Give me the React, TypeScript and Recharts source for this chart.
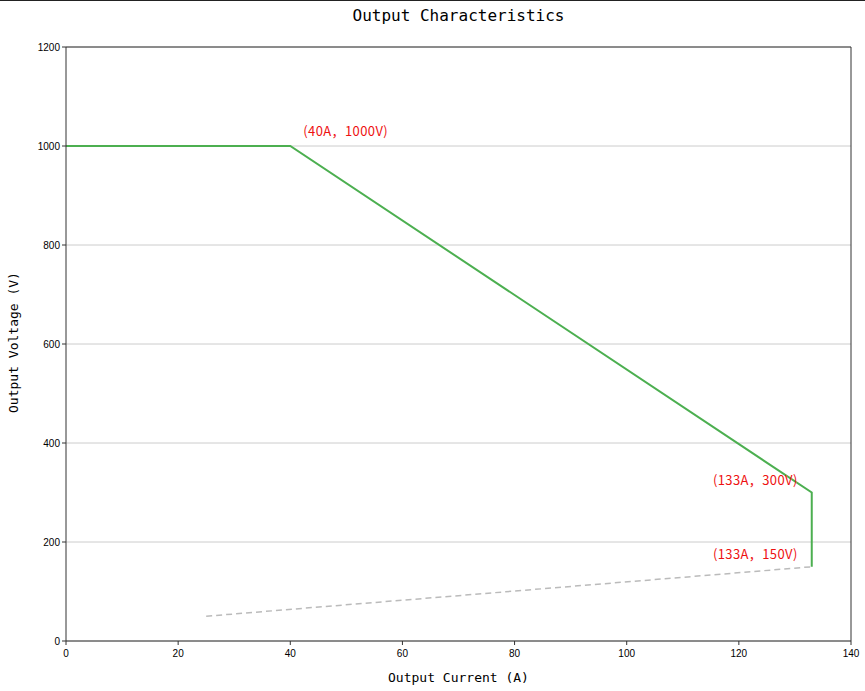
import React from 'react'
import { LineChart, Line, XAxis, YAxis, CartesianGrid, ReferenceLine, ReferenceDot } from 'recharts'

// 输出特性曲线
const curveCurrent = [0, 40, 133, 133]
const curveVoltage = [1000, 1000, 300, 150]

const lowCurrent = [25, 133]
const lowVoltage = [50, 150]

const xTicks = [0, 20, 40, 60, 80, 100, 120, 140]
const yTicks = [0, 200, 400, 600, 800, 1000, 1200]

const noteX = [40, 133, 133]
const noteY = [1000, 300, 150]
const noteText = ['(40A，1000V)', '(133A，300V)', '(133A，150V)']
const noteSide = ['right', 'left', 'left']

const curveData = curveCurrent.map((x, i) => ({ x, v: curveVoltage[i] }))
const lowData = lowCurrent.map((x, i) => ({ x, v: lowVoltage[i] }))

const W = 865
const H = 691
const axisColor = '#333'
const mono = '"DejaVu Sans Mono", monospace'

function NoteLabel(props: any) {
  const { viewBox, text, side } = props
  const cx = viewBox.x + viewBox.width / 2
  const cy = viewBox.y + viewBox.height / 2
  const right = side === 'right'
  return (
    <text
      x={right ? cx + 13 : cx - 14}
      y={right ? cy - 10 : cy - 8}
      textAnchor={right ? 'start' : 'end'}
      fill="#ee1111"
      fontSize={13}
      letterSpacing={0.4}
      fontFamily='"Noto Sans CJK SC", sans-serif'
    >
      {text}
    </text>
  )
}

export default function App() {
  return (
    <div style={{ position: 'fixed', left: 0, top: 0, width: W, height: H, background: '#fff', overflow: 'hidden' }}>
      <div style={{ position: 'absolute', left: 0, top: 0, width: W, height: 1, background: '#222' }} />
      <div
        style={{
          position: 'absolute', left: 66, width: 785, top: 6, textAlign: 'center',
          fontFamily: mono, fontSize: 16, color: '#000'
        }}
      >
        Output Characteristics
      </div>
      <div
        style={{
          position: 'absolute', left: 66, width: 785, top: 670, textAlign: 'center',
          fontFamily: mono, fontSize: 13, color: '#000'
        }}
      >
        Output Current (A)
      </div>
      <div
        style={{
          position: 'absolute', left: 13 - 100, width: 200, top: 344 - 9, textAlign: 'center',
          fontFamily: mono, fontSize: 13, color: '#000', transform: 'rotate(-90deg)'
        }}
      >
        Output Voltage (V)
      </div>
      <div style={{ position: 'absolute', left: 0, top: 0 }}>
        <LineChart width={W} height={H} margin={{ top: 47, right: 14, bottom: 0, left: 0 }}>
          <CartesianGrid vertical={false} stroke="#cccccc" />
          <XAxis
            dataKey="x"
            type="number"
            domain={[0, 140]}
            ticks={xTicks}
            height={50}
            allowDuplicatedCategory={false}
            axisLine={{ stroke: axisColor }}
            tickLine={{ stroke: axisColor }}
            tickSize={4}
            tickMargin={5}
            tick={{ fill: '#000', fontSize: 10, fontFamily: '"Liberation Sans", Arial' }}
          />
          <YAxis
            type="number"
            domain={[0, 1200]}
            ticks={yTicks}
            width={66}
            axisLine={{ stroke: axisColor }}
            tickLine={{ stroke: axisColor }}
            tickSize={4}
            tick={{ fill: '#000', fontSize: 10, fontFamily: '"Liberation Sans", Arial' }}
          />
          <ReferenceLine y={1200} stroke={axisColor} />
          <ReferenceLine x={140} stroke={axisColor} />
          <Line
            data={lowData}
            dataKey="v"
            type="linear"
            stroke="#bbbbbb"
            strokeWidth={1.5}
            strokeDasharray="6 4"
            dot={false}
            isAnimationActive={false}
          />
          <Line
            data={curveData}
            dataKey="v"
            type="linear"
            stroke="#4caf50"
            strokeWidth={2}
            dot={false}
            isAnimationActive={false}
          />
          {noteX.map((x, i) => (
            <ReferenceDot
              key={i}
              x={x}
              y={noteY[i]}
              r={0}
              fill="none"
              stroke="none"
              label={<NoteLabel text={noteText[i]} side={noteSide[i]} />}
            />
          ))}
        </LineChart>
      </div>
    </div>
  )
}
